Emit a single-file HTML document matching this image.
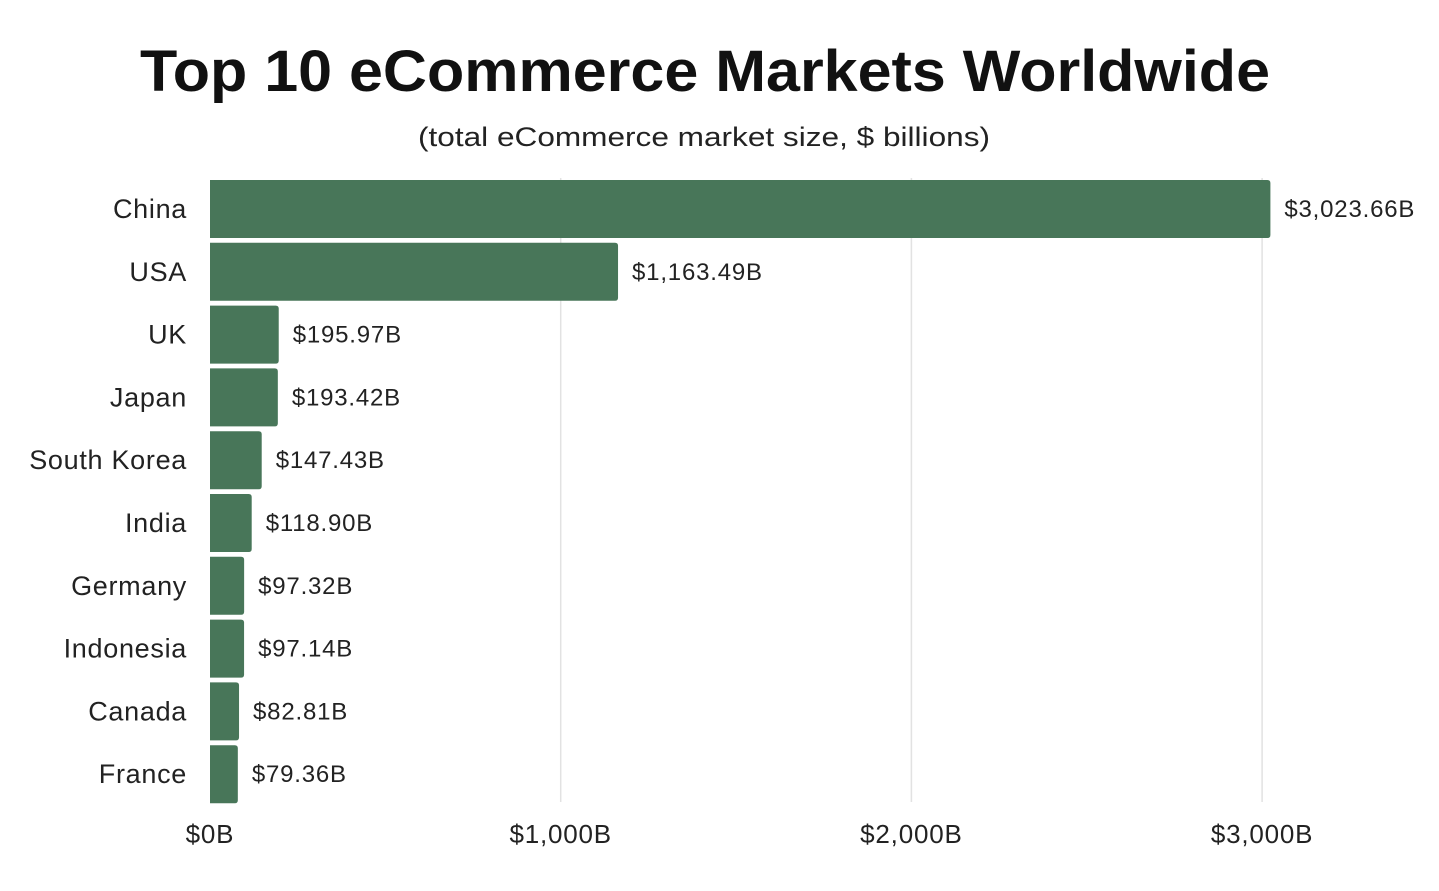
<!DOCTYPE html>
<html><head><meta charset="utf-8"><style>
body{margin:0;background:#fff;width:1439px;height:886px;overflow:hidden;font-family:"Liberation Sans",sans-serif}
</style></head><body>
<svg id="chart" width="1439" height="886" xmlns="http://www.w3.org/2000/svg">
<text x="140" y="91" textLength="1130" lengthAdjust="spacingAndGlyphs" font-size="58" font-weight="bold" fill="#111" font-family="Liberation Sans, sans-serif">Top 10 eCommerce Markets Worldwide</text>
<text x="418" y="146" textLength="572" lengthAdjust="spacingAndGlyphs" font-size="27" fill="#222" font-family="Liberation Sans, sans-serif">(total eCommerce market size, $ billions)</text>
<g id="grid"></g><g id="bars"></g><g id="labels"></g><g id="xticks"></g>
</svg>
<script>
const categories=["China","USA","UK","Japan","South Korea","India","Germany","Indonesia","Canada","France"];
const values=[3023.66,1163.49,195.97,193.42,147.43,118.90,97.32,97.14,82.81,79.36];
const valueLabels=["$3,023.66B","$1,163.49B","$195.97B","$193.42B","$147.43B","$118.90B","$97.32B","$97.14B","$82.81B","$79.36B"];
const tickValues=[0,1000,2000,3000];
const tickLabels=["$0B","$1,000B","$2,000B","$3,000B"];
const NS="http://www.w3.org/2000/svg";
const x=v=>210+v*0.3507;
const yTop=i=>180+i*62.8;
const bh=58;
function mk(tag,attrs,parent){const e=document.createElementNS(NS,tag);for(const k in attrs)e.setAttribute(k,attrs[k]);document.getElementById(parent).appendChild(e);return e;}
tickValues.forEach((t,i)=>{
 if(t>0){const l=mk('line',{x1:x(t),x2:x(t),y1:178,y2:802,stroke:'#e2e2e2','stroke-width':1.5},'grid');
 
 }
 const tx=mk('text',{x:x(t),y:843,'text-anchor':'middle','font-size':26,'letter-spacing':0.8,fill:'#222'},'xticks');
 tx.textContent=tickLabels[i];
 
 
});
categories.forEach((c,i)=>{
 const w=x(values[i])-210;
 const r=mk('path',{d:`M210,${yTop(i)} h${w-3} q3,0 3,3 v${bh-6} q0,3 -3,3 h${-(w-3)} z`,fill:'#487659'},'bars');
 
 
 const cy=yTop(i)+bh/2+9;
 const lt=mk('text',{x:187,y:cy,'text-anchor':'end','font-size':27,'letter-spacing':0.7,fill:'#222'},'labels');
 lt.textContent=c;
 
 
 const vt=mk('text',{x:x(values[i])+14,y:cy-1,'font-size':24,'letter-spacing':0.8,fill:'#222'},'labels');
 vt.textContent=valueLabels[i];
 
 
});
</script>
</body></html>
